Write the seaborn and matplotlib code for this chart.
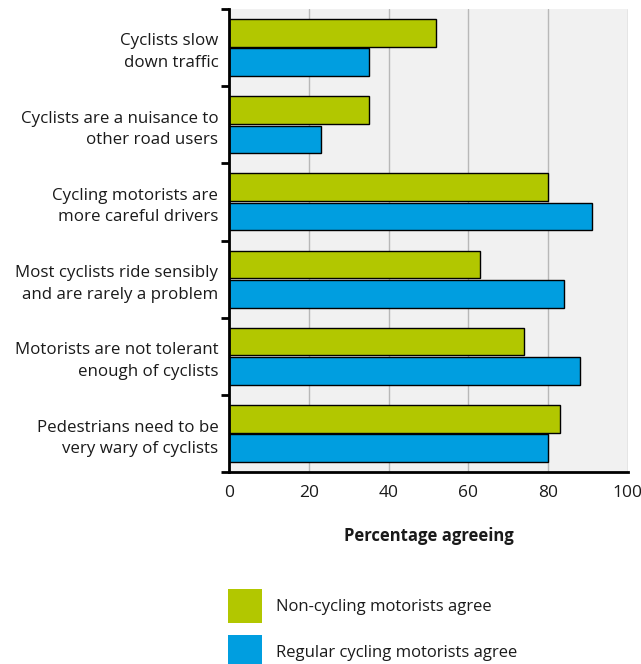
import matplotlib
matplotlib.use("Agg")
import matplotlib.pyplot as plt
import pandas as pd
import seaborn as sns
from matplotlib.patches import Patch

# Survey statements (y axis)
statements = [
    "Cyclists slow\ndown traffic",
    "Cyclists are a nuisance to\nother road users",
    "Cycling motorists are\nmore careful drivers",
    "Most cyclists ride sensibly\nand are rarely a problem",
    "Motorists are not tolerant\nenough of cyclists",
    "Pedestrians need to be\nvery wary of cyclists",
]
groups = ["Non-cycling motorists agree", "Regular cycling motorists agree"]
non_cycling = [52, 35, 80, 63, 74, 83]
regular_cycling = [35, 23, 91, 84, 88, 80]
x_ticks = [0, 20, 40, 60, 80, 100]

colors = ["#b2c700", "#009ee0"]

df = pd.DataFrame({
    "statement": statements * 2,
    "group": [groups[0]] * len(statements) + [groups[1]] * len(statements),
    "pct": non_cycling + regular_cycling,
})

sns.set_theme(style="white")
plt.rcParams["font.family"] = ["Open Sans", "DejaVu Sans"]

fig = plt.figure(figsize=(6.41, 6.64), dpi=100)
ax = fig.add_axes([0.358, 0.289, 0.621, 0.6976])
ax.set_facecolor("#f1f1f1")

sns.barplot(
    data=df, y="statement", x="pct", hue="group", order=statements,
    hue_order=groups, palette=colors, saturation=1, orient="h", width=0.76,
    gap=0.055, edgecolor="black", linewidth=1, legend=False, ax=ax,
)

ax.set_xlim(0, 100)
ax.set_ylim(len(statements) - 0.5, -0.5)
ax.set_xticks(x_ticks)
ax.set_xticklabels([str(t) for t in x_ticks], fontsize=12.5, color="#1a1a1a")
ax.xaxis.grid(True, color="#b8b8b8", linewidth=1)
ax.set_axisbelow(True)
ax.tick_params(axis="x", length=0, pad=9)

# category labels, ticks between groups
ax.set_yticks(range(len(statements)))
ax.set_yticklabels(statements, fontsize=12.2, color="#1a1a1a",
                   multialignment="right", linespacing=1.45)
ax.tick_params(axis="y", which="major", length=0, pad=8)
ax.set_yticks([i - 0.5 for i in range(len(statements) + 1)], minor=True)
ax.tick_params(axis="y", which="minor", length=6, width=2, color="black", left=True)

for side in ["top", "right"]:
    ax.spines[side].set_visible(False)
for side in ["left", "bottom"]:
    ax.spines[side].set_color("black")
    ax.spines[side].set_linewidth(2)

ax.set_ylabel("")
ax.set_xlabel("Percentage agreeing", fontsize=12, fontweight="bold",
              color="#1a1a1a", labelpad=19)

handles = [Patch(facecolor=c, edgecolor="none") for c in colors]
fig.legend(handles, groups, loc="upper left", bbox_to_anchor=(0.356, 0.1135),
           frameon=False, fontsize=12, handlelength=2.04, handleheight=2.76,
           handletextpad=0.85, labelspacing=0.72, borderpad=0, borderaxespad=0,
           labelcolor="#1a1a1a")

fig.savefig("out.png", dpi=100)
